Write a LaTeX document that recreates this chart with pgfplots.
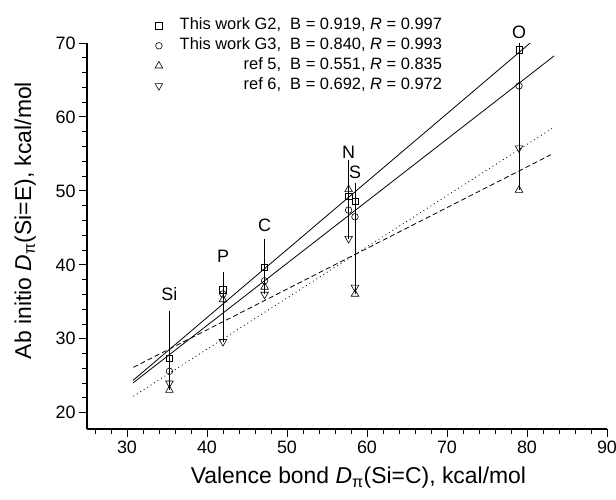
\documentclass[border=0pt]{standalone}
\usepackage{fontspec}
\setmainfont{Liberation Sans}
\usepackage{pgfplots}
\usepackage{pgfplotstable}
\pgfplotsset{compat=1.18}

% element  VB D_pi(Si=C)  G2  G3  ref5  ref6
\pgfplotstableread{
x    g2    g3    ref5  ref6
35.3 27.4  25.6  23.05 24.0
42.0 36.6  36.05 35.3  29.6
47.2 39.65 37.85 37.0  36.0
57.7 49.3  47.4  50.2  43.55
58.5 48.6  46.5  36.05 36.95
79.0 69.1  64.2  50.1  55.8
}\vbtable

\begin{document}
\begin{tikzpicture}
\useasboundingbox (-87bp,-71bp) rectangle (529bp,429bp);
\begin{axis}[
    width=520bp, height=386bp, scale only axis,
    xmin=25, xmax=90, ymin=17.8, ymax=70,
    clip=false,
    axis x line*=bottom, axis y line*=left,
    axis line style={-, line width=1.1bp},
    xtick={30,40,...,90}, minor xtick={26,28,...,88},
    ytick={20,30,...,70}, minor ytick={22,24,...,68},
    tick align=outside,
    major tick length=8bp, minor tick length=4.5bp,
    every tick/.style={black, line width=0.9bp},
    tick label style={font=\fontsize{18}{20}\selectfont},
    /pgf/number format/assume math mode=true,
    label style={font=\fontsize{23}{26}\selectfont},
    xlabel={Valence bond \textit{D}\textsubscript{π}(Si=C), kcal/mol},
    ylabel={Ab initio \textit{D}\textsubscript{π}(Si=E), kcal/mol},
    xlabel style={at={(axis description cs:0.522,-0.127)}, anchor=center},
    ylabel style={at={(axis description cs:-0.119,0.54)}, anchor=center},
    legend cell align=right,
    legend style={draw=none, fill=none, inner sep=0pt,
        at={(rel axis cs:0.683,1.071)}, anchor=north east,
        font=\fontsize{16.5}{19}\selectfont,
        nodes={inner xsep=0pt, inner ysep=2bp, text height=12bp, text depth=4bp},
        column sep=17bp},
    every axis plot/.append style={line width=0.8bp, black},
]
% fitted lines
\addplot[forget plot, solid] coordinates {(30.75,24.37) (80.4,70.0)};
\addplot[forget plot, solid] coordinates {(30.75,24.03) (83.4,68.26)};
\addplot[forget plot, dash pattern=on 5bp off 3bp] coordinates {(30.8,26.14) (83.0,54.90)};
\addplot[forget plot, dash pattern=on 0.9bp off 3.2bp] coordinates {(30.8,22.23) (83.1,58.43)};
% drop lines from the element labels
\addplot[forget plot, line width=0.7bp] coordinates {(35.3,33.8) (35.3,23.05)};
\addplot[forget plot, line width=0.7bp] coordinates {(42.0,39.0) (42.0,29.6)};
\addplot[forget plot, line width=0.7bp] coordinates {(47.2,43.55) (47.2,36.0)};
\addplot[forget plot, line width=0.7bp] coordinates {(57.7,54.2) (57.7,43.55)};
\addplot[forget plot, line width=0.7bp] coordinates {(58.5,51.1) (58.5,36.05)};
\addplot[forget plot, line width=0.7bp] coordinates {(79.0,70.0) (79.0,50.1)};
% data
\addplot[only marks, mark=square, mark size=3.2bp, mark options={line width=0.6bp}]
    table[x=x, y=g2] {\vbtable};
\addlegendentry{This work G2,\ \ B = 0.919, \textit{R} = 0.997}
\addplot[only marks, mark=o, mark size=3.3bp, mark options={line width=0.6bp}]
    table[x=x, y=g3] {\vbtable};
\addlegendentry{This work G3,\ \ B = 0.840, \textit{R} = 0.993}
\addplot[only marks, mark=triangle, mark size=4.4bp, mark options={line width=0.6bp}]
    table[x=x, y=ref5] {\vbtable};
\addlegendentry{ref 5,\ \ B = 0.551, \textit{R} = 0.835}
\addplot[only marks, mark=triangle, mark size=4.4bp, mark options={line width=0.6bp, rotate=180}]
    table[x=x, y=ref6] {\vbtable};
\addlegendentry{ref 6,\ \ B = 0.692, \textit{R} = 0.972}
% element labels
\begin{scope}[every node/.style={font=\fontsize{18}{20}\selectfont}]
\node at (axis cs:35.3,36.05) {Si};
\node at (axis cs:42.0,41.2) {P};
\node at (axis cs:47.2,45.35) {C};
\node at (axis cs:57.7,55.2) {N};
\node at (axis cs:58.5,52.45) {S};
\node at (axis cs:79.0,71.5) {O};
\end{scope}
\end{axis}
\end{tikzpicture}
\end{document}
